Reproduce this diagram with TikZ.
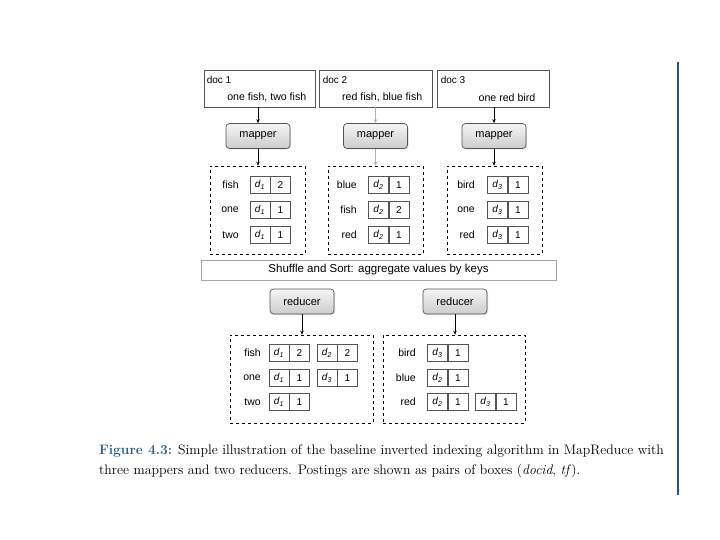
\documentclass[tikz,border=0pt]{standalone}
\usepackage{fontspec}
\setsansfont{Liberation Sans}
\usetikzlibrary{shadows,arrows.meta,calc}
\definecolor{capblue}{HTML}{2B5F8C}
\definecolor{barblue}{HTML}{1F5C7A}
\definecolor{boxgray}{HTML}{555555}
\newcommand\mkpair[5]{%
  \node[cell] (#1d) at (#2,#3) {\textit{d}\textsubscript{\textit{#4}}};
  \node[cell] (#1v) at ($(#1d.east)+(10,0)$) {#5};
}
\begin{document}
\begin{tikzpicture}[x=1pt,y=-1pt,
  docbox/.style={draw=boxgray,line width=0.9pt,fill=white,minimum width=111pt,minimum height=37pt,inner sep=0pt},
  doclbl/.style={font=\sffamily\fontsize{10}{12}\selectfont,inner sep=0pt},
  docbody/.style={font=\sffamily\fontsize{10.6}{12}\selectfont,inner sep=0pt},
  procbox/.style={draw=boxgray,line width=0.7pt,rounded corners=3.5pt,top color=gray!8,bottom color=gray!40,
    minimum width=64pt,minimum height=25pt,inner sep=0pt,font=\sffamily\fontsize{11}{13}\selectfont,
    drop shadow={shadow xshift=1pt,shadow yshift=-1pt,opacity=0.25}},
  dashbox/.style={draw=black,dashed,line width=0.6pt,minimum height=88pt,inner sep=0pt},
  cell/.style={draw=boxgray,line width=0.8pt,minimum width=20pt,minimum height=17pt,inner sep=0pt,
    font=\sffamily\fontsize{10}{11}\selectfont},
  rowlbl/.style={anchor=east,inner sep=0pt,font=\sffamily\fontsize{10.5}{12}\selectfont},
  arr/.style={-{Stealth[length=4pt,width=3.5pt]},line width=0.7pt},
  ]
\useasboundingbox (0,0) rectangle (720,540);
\fill[white] (0,0) rectangle (720,540);

% documents
\node[docbox] (doc1) at (259.5,88.5) {};
\node[docbox,minimum width=113pt] (doc2) at (375.5,88.5) {};
\node[docbox,minimum width=112pt] (doc3) at (493,88.5) {};
\node[doclbl,anchor=west] (doc1t) at ($(doc1.north west)+(3,10)$) {doc 1};
\node[doclbl,anchor=west] (doc2t) at ($(doc2.north west)+(4,10)$) {doc 2};
\node[doclbl,anchor=west] (doc3t) at ($(doc3.north west)+(4,10)$) {doc 3};
\node[docbody,anchor=east] (doc1b) at ($(doc1.south east)+(-9,-10)$) {one fish, two fish};
\node[docbody,anchor=east] (doc2b) at ($(doc2.south east)+(-10,-10)$) {red fish, blue fish};
\node[docbody,anchor=east] (doc3b) at ($(doc3.south east)+(-14,-10)$) {one red bird};

% mappers
\node[procbox] (map1) at (258,136) {mapper};
\node[procbox] (map2) at (375.5,136) {mapper};
\node[procbox] (map3) at (494,136) {mapper};

% mapper outputs
\node[dashbox,minimum width=95pt] (out1) at (257.5,210) {};
\node[dashbox,minimum width=95pt] (out2) at (375.5,210) {};
\node[dashbox,minimum width=95pt] (out3) at (494.5,210) {};

\draw[arr] (doc1.south -| map1) -- (map1.north);
\draw[arr,gray!60] (doc2.south -| map2) -- (map2.north);
\draw[arr] (doc3.south -| map3) -- (map3.north);
\draw[arr] (map1.south) -- (out1.north -| map1);
\draw[arr,gray!60] (map2.south) -- (out2.north -| map2);
\draw[arr] (map3.south) -- (out3.north -| map3);

\node[rowlbl] (l1a) at (239,185) {fish};
\node[rowlbl] (l1b) at (239,210) {one};
\node[rowlbl] (l1c) at (239,235) {two};
\mkpair{p1a}{260}{185}{1}{2}
\mkpair{p1b}{260}{210}{1}{1}
\mkpair{p1c}{260}{235}{1}{1}

\node[rowlbl] (l2a) at (357,185) {blue};
\node[rowlbl] (l2b) at (357,210) {fish};
\node[rowlbl] (l2c) at (357,235) {red};
\mkpair{p2a}{378.5}{185}{2}{1}
\mkpair{p2b}{378.5}{210}{2}{2}
\mkpair{p2c}{378.5}{235}{2}{1}

\node[rowlbl] (l3a) at (475,185) {bird};
\node[rowlbl] (l3b) at (475,210) {one};
\node[rowlbl] (l3c) at (475,235) {red};
\mkpair{p3a}{497.5}{185}{3}{1}
\mkpair{p3b}{497.5}{210}{3}{1}
\mkpair{p3c}{497.5}{235}{3}{1}

% shuffle
\node[draw=gray!70,line width=0.8pt,minimum width=355pt,minimum height=20pt,inner sep=0pt,
  font=\sffamily\fontsize{11.5}{13}\selectfont] (shuf) at (378.5,270) {Shuffle and Sort: aggregate values by keys};

% reducers
\node[procbox] (red1) at (302,301.5) {reducer};
\node[procbox] (red2) at (455,301.5) {reducer};
\node[dashbox,minimum width=143pt] (rout1) at (301.5,379) {};
\node[dashbox,minimum width=142pt] (rout2) at (454,379) {};
\draw[arr] (red1.south) -- (rout1.north -| red1);
\draw[arr] (red2.south) -- (rout2.north -| red2);

\node[rowlbl] (m1a) at (261,353) {fish};
\node[rowlbl] (m1b) at (261,378) {one};
\node[rowlbl] (m1c) at (261,402) {two};
\mkpair{q1a}{279}{353}{1}{2}
\mkpair{q1b}{279}{378}{1}{1}
\mkpair{q1c}{279}{402}{1}{1}
\mkpair{q1e}{327}{353}{2}{2}
\mkpair{q1f}{327}{378}{3}{1}

\node[rowlbl] (m2a) at (416,353) {bird};
\node[rowlbl] (m2b) at (416,378) {blue};
\node[rowlbl] (m2c) at (416,402) {red};
\mkpair{q2a}{437.5}{353}{3}{1}
\mkpair{q2b}{437.5}{378}{2}{1}
\mkpair{q2c}{437.5}{402}{2}{1}
\mkpair{q2e}{485.5}{402}{3}{1}

% caption
\node[anchor=north west,align=left,inner sep=0pt,font=\fontsize{13.75}{19.5}\selectfont] (cap) at (99,445)
  {{\bfseries\color{capblue}Figure 4.3:} Simple illustration of the baseline inverted indexing algorithm in MapReduce with\\
   three mappers and two reducers. Postings are shown as pairs of boxes (\textit{docid}, \textit{tf}).};

% side bar
\coordinate (bartop) at (678,62);
\coordinate (barbot) at (678,495);
\draw[barblue,line width=2.6pt] (bartop) -- (barbot);
\end{tikzpicture}
\end{document}
